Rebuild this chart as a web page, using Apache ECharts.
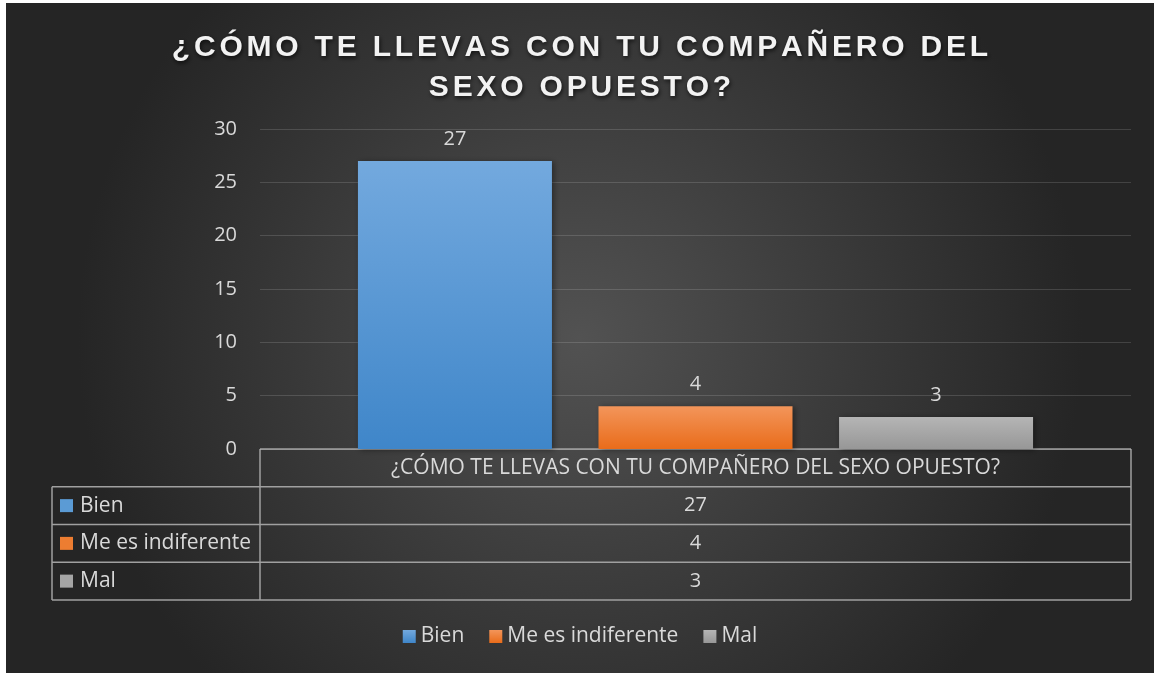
<!DOCTYPE html>
<html>
<head>
<meta charset="utf-8">
<script src="https://cdn.jsdelivr.net/npm/echarts@6/dist/echarts.min.js"></script>
<style>
  html, body { margin: 0; padding: 0; background: #fff; }
  #chart { position: absolute; left: 6px; top: 3px; width: 1148px; height: 670px; }
</style>
</head>
<body>
<div id="chart"></div>
<script>
const titleLines = ['¿CÓMO TE LLEVAS CON TU COMPAÑERO DEL', 'SEXO OPUESTO?'];
const categories = ['¿CÓMO TE LLEVAS CON TU COMPAÑERO DEL SEXO OPUESTO?'];
const seriesNames = ['Bien', 'Me es indiferente', 'Mal'];
const seriesValues = [27, 4, 3];
const yTicks = [0, 5, 10, 15, 20, 25, 30];

const colorsTop = ['#73a9de', '#f3955a', '#b5b5b5'];
const colorsBottom = ['#3f86c9', '#e96c1a', '#979797'];
const keyColors = ['#5b9bd5', '#ed7d31', '#a5a5a5'];

const font = '"Open Sans", sans-serif';
const textColor = '#d9d9d9';
const lineColor = '#a0a0a0';

const chart = echarts.init(document.getElementById('chart'));

// grid geometry (px in chart box)
const gl = 254, gr = 23, gt = 126, gb = 224;
const W = 1148, H = 670;
const plotRight = W - gr;
const axisY = H - gb;
const rowH = 37.75;
const tableLeft = 46;

let graphics = [];
const line = (x1, y1, x2, y2) => ({
  type: 'line', silent: true,
  shape: { x1, y1, x2, y2 },
  style: { stroke: lineColor, lineWidth: 1.5 }
});
// data table frame
graphics.push(line(gl, axisY, plotRight, axisY));
graphics.push(line(gl, axisY, gl, axisY + rowH * 4));
graphics.push(line(plotRight, axisY, plotRight, axisY + rowH * 4));
graphics.push(line(tableLeft, axisY + rowH, tableLeft, axisY + rowH * 4));
for (let i = 1; i <= 4; i++) {
  graphics.push(line(tableLeft, axisY + rowH * i, plotRight, axisY + rowH * i));
}
seriesNames.forEach((name, i) => {
  const cy = axisY + rowH * i + rowH * 1.5;
  graphics.push({
    type: 'rect', silent: true,
    shape: { x: tableLeft + 8, y: cy - 6.5, width: 13, height: 13 },
    style: { fill: keyColors[i] }
  });
  graphics.push({
    type: 'text', silent: true,
    x: tableLeft + 28, y: cy,
    style: { text: name, fill: textColor, font: '21px ' + font, verticalAlign: 'middle' }
  });
  graphics.push({
    type: 'text', silent: true,
    x: (gl + plotRight) / 2, y: cy,
    style: { text: String(seriesValues[i]), fill: textColor, font: '20px ' + font, align: 'center', verticalAlign: 'middle' }
  });
});

// spaced-out title, one rich token per character
const titleRich = titleLines.map(l => Array.from(l).map(c => '{c|' + c + '}').join('')).join('\n');
const titleStyle = {
  fontFamily: '"Liberation Sans", Arial, sans-serif',
  fontWeight: 'bold',
  fontSize: 30,
  lineHeight: 40,
  color: '#f2f2f2',
  textShadowColor: 'rgba(0,0,0,0.7)',
  textShadowBlur: 4,
  textShadowOffsetX: 1,
  textShadowOffsetY: 2
};

const option = {
  backgroundColor: {
    type: 'radial', x: 0.5, y: 0.5, r: 0.75,
    colorStops: [{ offset: 0, color: '#525252' }, { offset: 1, color: '#252525' }]
  },
  title: {
    text: titleRich,
    left: 'center',
    top: 20,
    textStyle: Object.assign({}, titleStyle, {
      rich: { c: Object.assign({}, titleStyle, { padding: [0, 1.9] }) }
    })
  },
  legend: {
    data: seriesNames,
    bottom: 21,
    left: 'center',
    icon: 'rect',
    itemWidth: 13,
    itemHeight: 13,
    itemGap: 25,
    textStyle: { color: textColor, fontSize: 21, fontFamily: font }
  },
  grid: { left: gl, right: gr, top: gt, bottom: gb },
  xAxis: {
    type: 'category',
    data: categories,
    axisLine: { show: false },
    axisTick: { show: false },
    axisLabel: { color: textColor, fontSize: 21, fontFamily: font, margin: 9 }
  },
  yAxis: {
    type: 'value',
    min: yTicks[0],
    max: yTicks[yTicks.length - 1],
    interval: 5,
    axisLine: { show: false },
    axisTick: { show: false },
    axisLabel: { color: textColor, fontSize: 20, fontFamily: font, margin: 23 },
    splitLine: { lineStyle: { color: 'rgba(255,255,255,0.14)', width: 1 } }
  },
  graphic: graphics,
  series: seriesNames.map((name, i) => ({
    name: name,
    type: 'bar',
    data: [seriesValues[i]],
    barWidth: 194,
    barGap: '24%',
    itemStyle: {
      color: {
        type: 'linear', x: 0, y: 0, x2: 0, y2: 1,
        colorStops: [{ offset: 0, color: colorsTop[i] }, { offset: 1, color: colorsBottom[i] }]
      },
      shadowColor: 'rgba(0,0,0,0.4)',
      shadowBlur: 6,
      shadowOffsetX: 2,
      shadowOffsetY: 1
    },
    label: {
      show: true,
      position: 'top',
      distance: 12,
      color: textColor,
      fontSize: 20,
      fontFamily: font
    }
  }))
};

chart.setOption(option);
window.addEventListener('resize', () => chart.resize());
</script>
</body>
</html>
